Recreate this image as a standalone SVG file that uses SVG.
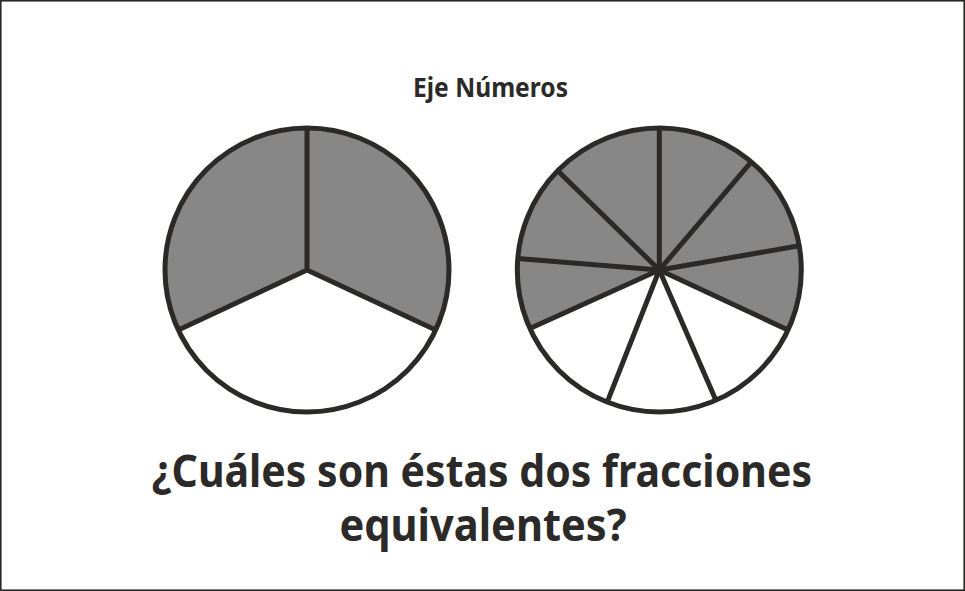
<svg xmlns="http://www.w3.org/2000/svg" width="965" height="591" viewBox="0 0 965 591">
<style>
.frame{fill:#fff;stroke:#2b2a29;stroke-width:1.6}
.fill{fill:#878787;stroke:none}
.rim{fill:none;stroke:#2b2a29;stroke-width:5}
.spoke{stroke:#2b2a29;stroke-width:5;stroke-linecap:butt}
.t{font-family:"Noto Sans","Open Sans","DejaVu Sans",sans-serif;font-weight:bold;fill:#2b2a29;text-anchor:middle}
</style>
<rect class="frame" x="0.8" y="0.8" width="963.4" height="589.4"/>
<text class="t" x="490.5" y="97" font-size="26" textLength="155" lengthAdjust="spacingAndGlyphs">Eje Números</text>
<g id="circle-thirds">
<path class="fill" d="M307,270 L307,128 A142,142 0 0 1 435.7,330 Z"/>
<path class="fill" d="M307,270 L307,128 A142,142 0 0 0 178.3,330 Z"/>
<circle class="rim" cx="307" cy="270" r="142"/>
<line class="spoke" x1="307" y1="270" x2="307" y2="128"/>
<line class="spoke" x1="307" y1="270" x2="435.7" y2="330"/>
<line class="spoke" x1="307" y1="270" x2="178.3" y2="330"/>
</g>
<g id="circle-ninths">
<path class="fill" d="M659.3,270 L529.8,328.5 A142,142 0 1 1 788.0,330.0 Z"/>
<circle class="rim" cx="659.3" cy="270" r="142"/>
<line class="spoke" x1="659.3" y1="270" x2="659.3" y2="128"/>
<line class="spoke" x1="659.3" y1="270" x2="751.3" y2="161.8"/>
<line class="spoke" x1="659.3" y1="270" x2="799.2" y2="245.8"/>
<line class="spoke" x1="659.3" y1="270" x2="788.0" y2="330.0"/>
<line class="spoke" x1="659.3" y1="270" x2="715.9" y2="400.2"/>
<line class="spoke" x1="659.3" y1="270" x2="607.2" y2="402.1"/>
<line class="spoke" x1="659.3" y1="270" x2="529.8" y2="328.5"/>
<line class="spoke" x1="659.3" y1="270" x2="517.8" y2="258.4"/>
<line class="spoke" x1="659.3" y1="270" x2="557.7" y2="170.8"/>
</g>
<text class="t" x="482" y="487" font-size="44" textLength="660" lengthAdjust="spacingAndGlyphs">¿Cuáles son éstas dos fracciones</text>
<text class="t" x="483" y="541" font-size="44" textLength="287" lengthAdjust="spacingAndGlyphs">equivalentes?</text>
</svg>
